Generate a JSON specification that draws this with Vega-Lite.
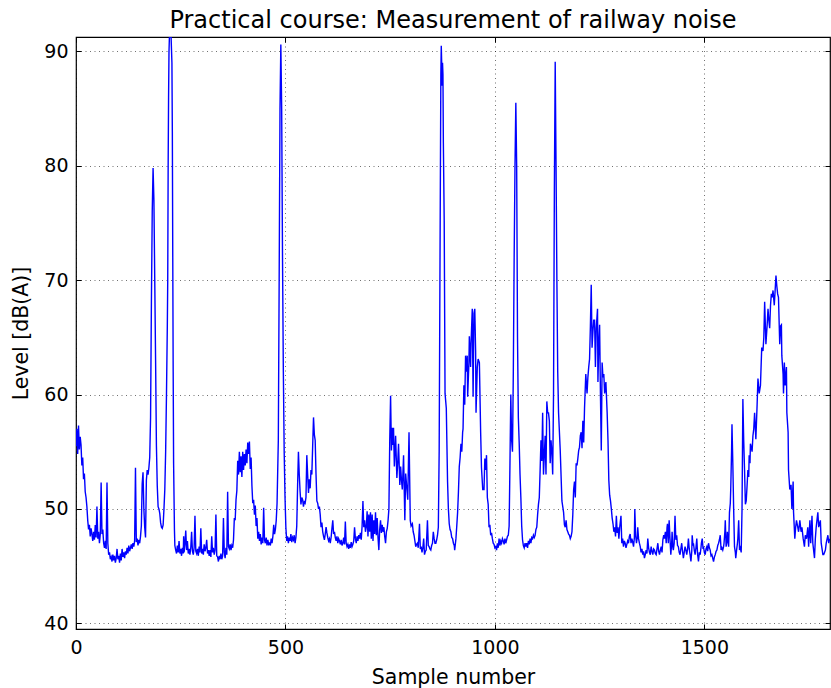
{
  "$schema": "https://vega.github.io/schema/vega-lite/v6.json",
  "width": 754,
  "height": 592,
  "autosize": {"type": "none"},
  "padding": {"left": 76, "top": 37, "right": 1, "bottom": 59},
  "background": "white",
  "title": {"text": "Practical course: Measurement of railway noise", "font": "DejaVu Sans", "fontSize": 24, "fontWeight": "normal", "color": "#000", "offset": 4},
  "config": {
    "view": {"stroke": "#000", "strokeWidth": 1.2},
    "axis": {"labelFont": "DejaVu Sans", "labelFontSize": 19, "labelColor": "#000", "titleFont": "DejaVu Sans", "titleFontSize": 20.5, "titleFontWeight": "normal", "titleColor": "#000", "domain": false, "tickColor": "#000", "tickWidth": 1, "tickSize": -5, "gridColor": "#000", "gridOpacity": 0.7, "gridDash": [1, 3.5], "gridWidth": 0.8}
  },
  "data": {"values": [
{"sample":0,"level":55.5},{"sample":2,"level":57.0},{"sample":4,"level":54.8},{"sample":6,"level":57.3},{"sample":8,"level":55.2},{"sample":10,"level":56.3},{"sample":12,"level":55.6},{"sample":14,"level":53.8},{"sample":16,"level":54.5},{"sample":18,"level":52.6},{"sample":20,"level":53.1},{"sample":22,"level":51.5},{"sample":24,"level":51.0},{"sample":26,"level":50.2},{"sample":28,"level":49.0},{"sample":30,"level":48.2},{"sample":32,"level":48.6},{"sample":34,"level":47.6},{"sample":36,"level":48.3},{"sample":38,"level":47.8},{"sample":40,"level":47.2},{"sample":42,"level":48.0},{"sample":44,"level":47.3},{"sample":46,"level":48.6},{"sample":48,"level":47.5},{"sample":50,"level":50.2},{"sample":52,"level":47.4},{"sample":54,"level":48.0},{"sample":56,"level":47.0},{"sample":58,"level":47.8},{"sample":60,"level":52.3},{"sample":62,"level":47.8},{"sample":64,"level":48.2},{"sample":66,"level":47.0},{"sample":68,"level":46.6},{"sample":70,"level":47.2},{"sample":72,"level":46.5},{"sample":74,"level":52.3},{"sample":76,"level":47.0},{"sample":78,"level":46.0},{"sample":80,"level":46.2},{"sample":82,"level":45.6},{"sample":84,"level":45.8},{"sample":86,"level":45.4},{"sample":88,"level":46.0},{"sample":90,"level":45.5},{"sample":92,"level":45.9},{"sample":94,"level":45.3},{"sample":96,"level":45.7},{"sample":98,"level":46.5},{"sample":100,"level":45.6},{"sample":102,"level":45.9},{"sample":104,"level":45.3},{"sample":106,"level":46.1},{"sample":108,"level":45.5},{"sample":110,"level":46.5},{"sample":112,"level":45.8},{"sample":114,"level":46.2},{"sample":116,"level":45.7},{"sample":118,"level":46.3},{"sample":120,"level":46.0},{"sample":122,"level":46.6},{"sample":124,"level":46.1},{"sample":126,"level":46.8},{"sample":128,"level":46.3},{"sample":130,"level":46.6},{"sample":132,"level":46.9},{"sample":134,"level":46.5},{"sample":136,"level":47.0},{"sample":138,"level":46.7},{"sample":140,"level":47.2},{"sample":142,"level":53.6},{"sample":144,"level":47.1},{"sample":146,"level":47.4},{"sample":148,"level":46.8},{"sample":150,"level":47.3},{"sample":152,"level":47.0},{"sample":154,"level":47.6},{"sample":156,"level":48.5},{"sample":158,"level":52.2},{"sample":160,"level":53.2},{"sample":162,"level":50.0},{"sample":164,"level":48.4},{"sample":166,"level":47.5},{"sample":168,"level":52.5},{"sample":170,"level":53.4},{"sample":172,"level":53.0},{"sample":174,"level":53.6},{"sample":176,"level":54.5},
{"sample":178,"level":58},{"sample":180,"level":68},{"sample":182,"level":76},{"sample":184,"level":79.8},{"sample":186,"level":77},{"sample":188,"level":70},{"sample":190,"level":63},{"sample":192,"level":55.5},{"sample":194,"level":52},{"sample":196,"level":50.2},{"sample":198,"level":50},{"sample":200,"level":49.6},{"sample":202,"level":48.8},{"sample":204,"level":48.4},{"sample":206,"level":48.3},{"sample":208,"level":48.6},{"sample":210,"level":50},{"sample":212,"level":51.7},{"sample":214,"level":55},{"sample":216,"level":60},{"sample":218,"level":66},{"sample":219,"level":70},{"sample":220,"level":80},{"sample":221,"level":86},{"sample":222,"level":90},{"sample":223,"level":91.26},{"sample":227,"level":91.26},{"sample":229,"level":89},{"sample":230,"level":83},{"sample":231,"level":72},{"sample":232,"level":62},{"sample":233,"level":54},{"sample":235,"level":48.2},{"sample":236,"level":46.8},
{"sample":238,"level":46.4},{"sample":240,"level":46.1},{"sample":242,"level":46.8},{"sample":244,"level":46.2},{"sample":246,"level":47.2},{"sample":248,"level":46.1},{"sample":250,"level":46.5},{"sample":252,"level":45.9},{"sample":254,"level":46.6},{"sample":256,"level":46.1},{"sample":257,"level":47.6},{"sample":258,"level":46.2},{"sample":260,"level":46.9},{"sample":262,"level":48.1},{"sample":264,"level":46.4},{"sample":266,"level":47.2},{"sample":268,"level":46.1},{"sample":270,"level":46.5},{"sample":272,"level":46.0},{"sample":274,"level":46.6},{"sample":276,"level":48.0},{"sample":278,"level":46.3},{"sample":280,"level":46.0},{"sample":282,"level":46.6},{"sample":284,"level":49.4},{"sample":286,"level":46.3},{"sample":288,"level":46.1},{"sample":290,"level":46.5},{"sample":292,"level":45.9},{"sample":294,"level":46.7},{"sample":296,"level":46.2},{"sample":298,"level":48.3},{"sample":300,"level":46.1},{"sample":302,"level":46.5},{"sample":304,"level":46.0},{"sample":306,"level":46.9},{"sample":308,"level":46.3},{"sample":310,"level":46.6},{"sample":312,"level":47.3},{"sample":314,"level":46.1},{"sample":316,"level":46.4},{"sample":318,"level":45.9},{"sample":320,"level":46.4},{"sample":322,"level":45.8},{"sample":324,"level":47.6},{"sample":326,"level":46.2},{"sample":328,"level":46.6},{"sample":330,"level":46.0},{"sample":332,"level":46.4},{"sample":334,"level":49.5},{"sample":336,"level":45.9},{"sample":338,"level":45.8},{"sample":340,"level":45.4},{"sample":342,"level":45.9},{"sample":344,"level":45.6},{"sample":346,"level":46.1},{"sample":348,"level":45.6},{"sample":350,"level":45.9},{"sample":352,"level":49.2},{"sample":354,"level":46.2},{"sample":356,"level":45.7},{"sample":358,"level":46.6},{"sample":360,"level":46.0},{"sample":362,"level":51.5},
{"sample":364,"level":46.7},{"sample":366,"level":46.5},{"sample":368,"level":46.9},{"sample":370,"level":46.4},{"sample":372,"level":46.8},{"sample":374,"level":46.6},{"sample":376,"level":47.3},{"sample":378,"level":49.2},{"sample":380,"level":49.0},{"sample":382,"level":50.8},{"sample":384,"level":51.6},{"sample":386,"level":54.2},{"sample":388,"level":53.0},{"sample":390,"level":55.0},{"sample":392,"level":53.2},{"sample":394,"level":54.6},{"sample":396,"level":52.8},{"sample":398,"level":55.0},{"sample":400,"level":53.4},{"sample":402,"level":54.8},{"sample":404,"level":53.8},{"sample":406,"level":55.2},{"sample":408,"level":54.0},{"sample":410,"level":55.8},{"sample":412,"level":54.8},{"sample":414,"level":55.9},{"sample":416,"level":53.5},{"sample":418,"level":54.5},{"sample":420,"level":52.0},{"sample":422,"level":50.5},{"sample":424,"level":50.8},{"sample":426,"level":49.5},{"sample":428,"level":50.3},{"sample":430,"level":48.5},{"sample":432,"level":49.2},{"sample":434,"level":47.4},{"sample":436,"level":48.0},{"sample":438,"level":47.2},{"sample":440,"level":47.8},{"sample":442,"level":46.9},{"sample":444,"level":47.5},{"sample":446,"level":47.0},{"sample":448,"level":50.1},{"sample":450,"level":47.3},{"sample":452,"level":47.0},{"sample":454,"level":47.5},{"sample":456,"level":46.8},{"sample":458,"level":47.3},{"sample":460,"level":46.9},{"sample":462,"level":47.0},{"sample":464,"level":46.8},{"sample":466,"level":47.4},{"sample":468,"level":47.0},{"sample":470,"level":47.6},{"sample":472,"level":48.6},{"sample":474,"level":47.8},{"sample":476,"level":48.2},{"sample":478,"level":49.0},{"sample":480,"level":50.5},
{"sample":483,"level":56},{"sample":485,"level":70},{"sample":487,"level":85},{"sample":489,"level":90.6},{"sample":491,"level":85},{"sample":493,"level":72},{"sample":495,"level":62},{"sample":497,"level":55},{"sample":499,"level":51},{"sample":501,"level":48.4},
{"sample":503,"level":47.2},{"sample":505,"level":47.6},{"sample":507,"level":47.0},{"sample":509,"level":47.5},{"sample":511,"level":47.2},{"sample":513,"level":47.8},{"sample":515,"level":47.1},{"sample":517,"level":47.5},{"sample":519,"level":47.3},{"sample":521,"level":47.7},{"sample":523,"level":47.0},{"sample":525,"level":47.5},{"sample":527,"level":48.5},{"sample":529,"level":52},{"sample":531,"level":55.0},{"sample":533,"level":53},{"sample":535,"level":51.5},{"sample":537,"level":50.4},{"sample":539,"level":51.0},{"sample":541,"level":50.8},{"sample":543,"level":50.2},{"sample":545,"level":50.6},{"sample":547,"level":50.5},{"sample":549,"level":51.0},{"sample":551,"level":54.7},{"sample":553,"level":53.0},{"sample":555,"level":51.4},
{"sample":557,"level":52.6},{"sample":559,"level":51.8},{"sample":561,"level":53.4},{"sample":563,"level":53.0},{"sample":565,"level":55.5},{"sample":567,"level":58.0},{"sample":569,"level":56.5},{"sample":571,"level":56.0},{"sample":573,"level":53.0},{"sample":575,"level":50.7},{"sample":577,"level":50.5},{"sample":579,"level":50.0},{"sample":581,"level":50.2},{"sample":583,"level":49.5},{"sample":585,"level":48.4},{"sample":587,"level":48.8},{"sample":589,"level":48.0},{"sample":591,"level":47.6},{"sample":593,"level":47.3},{"sample":595,"level":47.8},{"sample":597,"level":48.4},{"sample":599,"level":47.9},{"sample":601,"level":47.5},{"sample":603,"level":47.2},{"sample":605,"level":47.4},{"sample":607,"level":47.0},{"sample":609,"level":47.5},{"sample":611,"level":48.3},{"sample":613,"level":49.0},{"sample":615,"level":47.8},{"sample":617,"level":48.0},{"sample":619,"level":47.5},{"sample":621,"level":47.2},{"sample":623,"level":47.6},{"sample":625,"level":47.0},{"sample":627,"level":47.4},{"sample":629,"level":47.2},{"sample":631,"level":46.9},{"sample":633,"level":47.3},{"sample":635,"level":46.8},{"sample":637,"level":47.0},{"sample":639,"level":47.5},{"sample":641,"level":46.9},{"sample":643,"level":48.9},{"sample":645,"level":47.0},{"sample":647,"level":46.7},{"sample":649,"level":46.9},{"sample":651,"level":46.5},{"sample":653,"level":46.9},{"sample":655,"level":46.6},{"sample":657,"level":47.1},{"sample":659,"level":46.7},{"sample":661,"level":46.9},{"sample":663,"level":47.2},{"sample":665,"level":48.4},{"sample":667,"level":47.4},{"sample":669,"level":47.0},{"sample":671,"level":47.6},{"sample":673,"level":47.2},{"sample":675,"level":47.7},{"sample":677,"level":47.4},{"sample":679,"level":47.9},{"sample":681,"level":47.3},{"sample":683,"level":48.5},{"sample":685,"level":50.7},{"sample":687,"level":48.4},{"sample":689,"level":49.0},{"sample":691,"level":48.0},{"sample":693,"level":48.4},{"sample":695,"level":49.8},{"sample":697,"level":47.6},{"sample":699,"level":49.5},{"sample":701,"level":48.0},{"sample":703,"level":49.7},{"sample":705,"level":47.4},{"sample":707,"level":49.5},{"sample":709,"level":47.2},{"sample":711,"level":49.0},{"sample":713,"level":47.8},{"sample":715,"level":49.7},{"sample":717,"level":47.7},{"sample":719,"level":49.2},{"sample":721,"level":47.5},{"sample":723,"level":46.4},{"sample":725,"level":48.2},{"sample":727,"level":49.0},{"sample":729,"level":47.9},{"sample":731,"level":48.6},{"sample":733,"level":48.0},{"sample":735,"level":48.4},{"sample":737,"level":47.6},{"sample":739,"level":47.0},{"sample":741,"level":48.0},{"sample":743,"level":48.3},{"sample":745,"level":49.0},{"sample":747,"level":50.0},
{"sample":749,"level":56},{"sample":751,"level":59.9},{"sample":753,"level":55.1},{"sample":755,"level":57.1},{"sample":756,"level":55.6},{"sample":758,"level":57.1},{"sample":760,"level":53.7},{"sample":763,"level":56.4},{"sample":766,"level":52.7},{"sample":768,"level":54.0},{"sample":770,"level":55.7},{"sample":773,"level":52.1},{"sample":775,"level":53.7},{"sample":777,"level":52.5},{"sample":779,"level":51.7},{"sample":782,"level":54.7},{"sample":785,"level":49.0},{"sample":787,"level":53.1},{"sample":790,"level":51.7},{"sample":792,"level":50.8},{"sample":795,"level":56.7},{"sample":798,"level":49.0},{"sample":800,"level":48.5},{"sample":803,"level":48.7},{"sample":805,"level":48.0},{"sample":807,"level":47.7},{"sample":809,"level":47.2},{"sample":811,"level":46.7},{"sample":813,"level":46.9},{"sample":815,"level":47.0},{"sample":817,"level":46.6},{"sample":820,"level":48.7},{"sample":822,"level":46.5},{"sample":824,"level":46.7},{"sample":826,"level":46.2},{"sample":828,"level":46.6},{"sample":830,"level":47.4},{"sample":832,"level":46.0},{"sample":834,"level":46.3},{"sample":836,"level":46.4},{"sample":839,"level":49.0},{"sample":841,"level":46.8},{"sample":843,"level":46.7},{"sample":845,"level":46.5},{"sample":847,"level":46.4},{"sample":849,"level":46.8},{"sample":851,"level":47.0},{"sample":853,"level":48.0},{"sample":855,"level":47.4},{"sample":857,"level":47.0},{"sample":859,"level":47.0},{"sample":861,"level":47.3},{"sample":863,"level":47.7},{"sample":865,"level":48.4},
{"sample":867,"level":55.1},{"sample":869,"level":71.8},{"sample":871,"level":88},{"sample":872,"level":90.5},{"sample":873,"level":89},{"sample":874,"level":87},{"sample":875,"level":89},{"sample":876,"level":88},{"sample":877,"level":82},{"sample":879,"level":75.2},{"sample":881,"level":60.1},{"sample":884,"level":58.8},{"sample":887,"level":52.4},{"sample":889,"level":50},{"sample":891,"level":48.7},{"sample":893,"level":48.2},{"sample":895,"level":48.0},
{"sample":897,"level":47.5},{"sample":899,"level":47.4},{"sample":901,"level":47.0},{"sample":903,"level":46.8},{"sample":904,"level":46.4},{"sample":907,"level":47.4},{"sample":909,"level":48.5},{"sample":911,"level":49.7},{"sample":913,"level":51.5},{"sample":915,"level":53.7},{"sample":917,"level":54.5},{"sample":919,"level":55.7},{"sample":921,"level":55.0},{"sample":923,"level":56.7},{"sample":924,"level":57.0},{"sample":926,"level":60.8},{"sample":928,"level":59.1},{"sample":930,"level":63.4},{"sample":932,"level":62.0},{"sample":934,"level":63.4},{"sample":935,"level":59.8},{"sample":938,"level":62.8},{"sample":939,"level":65.1},{"sample":942,"level":62.4},{"sample":943,"level":64.4},{"sample":946,"level":67.5},{"sample":948,"level":59.8},{"sample":950,"level":67.1},{"sample":952,"level":67.5},{"sample":954,"level":63.8},{"sample":955,"level":58.4},{"sample":958,"level":62.4},{"sample":960,"level":63.1},{"sample":963,"level":62.8},{"sample":966,"level":56.7},{"sample":968,"level":53.6},{"sample":971,"level":51.7},{"sample":974,"level":51.7},{"sample":976,"level":54.4},{"sample":978,"level":53.4},{"sample":980,"level":54.7},{"sample":982,"level":51.0},{"sample":984,"level":50.4},{"sample":986,"level":48.4},{"sample":988,"level":48.6},{"sample":990,"level":47.7},{"sample":992,"level":47.9},{"sample":994,"level":47.4},{"sample":996,"level":47.0},{"sample":998,"level":46.9},{"sample":1000,"level":46.6},{"sample":1002,"level":46.7},{"sample":1004,"level":46.4},{"sample":1006,"level":47.0},{"sample":1008,"level":46.6},{"sample":1010,"level":47.4},{"sample":1012,"level":46.8},{"sample":1014,"level":47.2},{"sample":1016,"level":47.0},{"sample":1018,"level":47.4},{"sample":1020,"level":47.2},{"sample":1022,"level":46.9},{"sample":1024,"level":47.4},{"sample":1026,"level":47.0},{"sample":1028,"level":47.3},{"sample":1030,"level":47.6},{"sample":1032,"level":47.7},{"sample":1034,"level":48.5},
{"sample":1036,"level":54},{"sample":1038,"level":60.0},{"sample":1040,"level":56},{"sample":1042,"level":55.0},{"sample":1044,"level":62},{"sample":1046,"level":72},{"sample":1048,"level":80},{"sample":1050,"level":85.5},{"sample":1052,"level":80},{"sample":1054,"level":65},{"sample":1056,"level":58},{"sample":1058,"level":55.8},{"sample":1060,"level":53},{"sample":1062,"level":51},{"sample":1064,"level":48.5},{"sample":1066,"level":47.3},
{"sample":1068,"level":46.8},{"sample":1070,"level":46.6},{"sample":1072,"level":47.0},{"sample":1074,"level":46.7},{"sample":1076,"level":47.0},{"sample":1078,"level":46.6},{"sample":1080,"level":47.2},{"sample":1082,"level":46.9},{"sample":1084,"level":47.4},{"sample":1086,"level":47.0},{"sample":1088,"level":47.5},{"sample":1090,"level":47.4},{"sample":1092,"level":47.7},{"sample":1094,"level":47.5},{"sample":1096,"level":47.7},{"sample":1098,"level":48.2},{"sample":1100,"level":48.4},{"sample":1102,"level":49.5},{"sample":1104,"level":50.4},{"sample":1106,"level":51.0},{"sample":1108,"level":53.4},{"sample":1110,"level":56.0},{"sample":1112,"level":54.2},{"sample":1114,"level":58.4},{"sample":1116,"level":53.0},{"sample":1118,"level":54.7},{"sample":1120,"level":56.4},{"sample":1122,"level":53.0},{"sample":1124,"level":59.4},{"sample":1126,"level":58.4},{"sample":1128,"level":58.4},{"sample":1130,"level":57.7},{"sample":1132,"level":54.0},{"sample":1134,"level":56.0},{"sample":1136,"level":55.0},{"sample":1138,"level":53.0},
{"sample":1140,"level":60.1},{"sample":1142,"level":78},{"sample":1144,"level":89.1},{"sample":1146,"level":80},{"sample":1148,"level":70},{"sample":1150,"level":62},{"sample":1152,"level":58.4},{"sample":1156,"level":55.1},{"sample":1160,"level":50.7},
{"sample":1162,"level":50.2},{"sample":1164,"level":49.7},{"sample":1166,"level":48.6},{"sample":1168,"level":48.4},{"sample":1170,"level":49.0},{"sample":1172,"level":48.2},{"sample":1174,"level":48.0},{"sample":1176,"level":47.8},{"sample":1178,"level":47.7},{"sample":1180,"level":47.4},{"sample":1182,"level":47.6},{"sample":1184,"level":48.0},{"sample":1186,"level":49.5},{"sample":1188,"level":51.7},{"sample":1190,"level":52.4},{"sample":1192,"level":51.0},{"sample":1194,"level":54.0},{"sample":1196,"level":53.8},{"sample":1198,"level":54.4},{"sample":1200,"level":55.1},{"sample":1202,"level":55.4},{"sample":1204,"level":56.4},{"sample":1206,"level":56.7},{"sample":1208,"level":55.3},{"sample":1210,"level":57.7},{"sample":1212,"level":55.8},{"sample":1214,"level":58.8},{"sample":1217,"level":61.8},{"sample":1220,"level":60.1},{"sample":1222,"level":61.5},{"sample":1224,"level":62.4},{"sample":1226,"level":63.1},{"sample":1228,"level":66},{"sample":1230,"level":69.6},{"sample":1232,"level":64.1},{"sample":1234,"level":65.5},{"sample":1236,"level":66.5},{"sample":1238,"level":66.5},{"sample":1240,"level":62.4},{"sample":1242,"level":65.8},{"sample":1245,"level":67.5},{"sample":1246,"level":61.1},{"sample":1248,"level":64.4},{"sample":1250,"level":66.1},{"sample":1252,"level":60.0},{"sample":1254,"level":55.1},{"sample":1256,"level":62.8},{"sample":1258,"level":61.5},{"sample":1260,"level":61.8},{"sample":1262,"level":60.1},{"sample":1265,"level":61.1},{"sample":1268,"level":58.4},{"sample":1270,"level":56},{"sample":1272,"level":52.5},{"sample":1274,"level":51.2},{"sample":1276,"level":50.7},{"sample":1278,"level":50.0},{"sample":1280,"level":49.2},{"sample":1282,"level":48.7},{"sample":1284,"level":48.0},{"sample":1286,"level":48.4},{"sample":1288,"level":47.6},{"sample":1290,"level":49.4},{"sample":1292,"level":47.9},{"sample":1294,"level":48.4},{"sample":1296,"level":47.4},{"sample":1298,"level":48.4},
{"sample":1301,"level":49.4},{"sample":1303,"level":47.0},{"sample":1305,"level":47.4},{"sample":1307,"level":46.7},{"sample":1309,"level":47.2},{"sample":1311,"level":47.0},{"sample":1313,"level":46.6},{"sample":1315,"level":46.9},{"sample":1317,"level":47.2},{"sample":1319,"level":47.0},{"sample":1321,"level":47.6},{"sample":1323,"level":47.8},{"sample":1325,"level":47.0},{"sample":1327,"level":47.4},{"sample":1329,"level":47.1},{"sample":1331,"level":46.7},{"sample":1333,"level":47.5},{"sample":1334,"level":50.0},{"sample":1336,"level":47.7},{"sample":1338,"level":47.0},{"sample":1340,"level":47.5},{"sample":1341,"level":48.4},{"sample":1343,"level":47.4},{"sample":1345,"level":47.0},{"sample":1347,"level":46.7},{"sample":1349,"level":46.2},{"sample":1351,"level":46.5},{"sample":1353,"level":46.0},{"sample":1355,"level":46.3},{"sample":1357,"level":45.7},{"sample":1359,"level":46.0},{"sample":1361,"level":46.4},{"sample":1363,"level":46.1},{"sample":1365,"level":47.4},{"sample":1367,"level":46.6},{"sample":1369,"level":46.2},{"sample":1371,"level":46.0},{"sample":1373,"level":46.7},{"sample":1375,"level":46.3},{"sample":1377,"level":46.0},{"sample":1379,"level":46.5},{"sample":1381,"level":46.4},{"sample":1383,"level":46.1},{"sample":1385,"level":46.0},{"sample":1387,"level":46.5},{"sample":1389,"level":47.0},{"sample":1391,"level":46.3},{"sample":1393,"level":46.0},{"sample":1395,"level":46.4},{"sample":1397,"level":46.7},{"sample":1399,"level":46.2},{"sample":1401,"level":47.3},{"sample":1403,"level":47.7},{"sample":1405,"level":47.4},{"sample":1407,"level":48.0},{"sample":1409,"level":47.0},{"sample":1411,"level":48.4},{"sample":1412,"level":48.7},{"sample":1414,"level":47.0},{"sample":1416,"level":49.0},{"sample":1418,"level":47.4},{"sample":1420,"level":46.0},{"sample":1422,"level":47.0},{"sample":1423,"level":48.0},{"sample":1425,"level":46.6},{"sample":1426,"level":46.4},{"sample":1428,"level":47.0},{"sample":1430,"level":49.4},{"sample":1432,"level":47.3},{"sample":1434,"level":47.7},{"sample":1436,"level":46.8},{"sample":1438,"level":46.7},{"sample":1440,"level":46.2},{"sample":1442,"level":46.0},{"sample":1444,"level":46.5},{"sample":1446,"level":47.0},{"sample":1448,"level":46.3},{"sample":1450,"level":45.7},{"sample":1452,"level":46.2},{"sample":1454,"level":46.7},{"sample":1456,"level":46.4},{"sample":1458,"level":46.0},{"sample":1460,"level":46.5},{"sample":1462,"level":47.4},{"sample":1464,"level":46.5},{"sample":1466,"level":46.0},{"sample":1468,"level":45.4},{"sample":1470,"level":46.3},{"sample":1471,"level":47.7},{"sample":1473,"level":46.8},{"sample":1474,"level":47.0},{"sample":1476,"level":46.4},{"sample":1478,"level":46.0},{"sample":1480,"level":46.6},{"sample":1482,"level":47.4},{"sample":1484,"level":46.0},{"sample":1486,"level":45.4},
{"sample":1488,"level":46.2},{"sample":1490,"level":46.0},{"sample":1492,"level":46.6},{"sample":1493,"level":47.0},{"sample":1495,"level":47.4},{"sample":1497,"level":46.5},{"sample":1498,"level":46.7},{"sample":1500,"level":46.2},{"sample":1502,"level":46.0},{"sample":1504,"level":46.5},{"sample":1506,"level":46.7},{"sample":1508,"level":46.3},{"sample":1510,"level":47.0},{"sample":1512,"level":46.6},{"sample":1514,"level":46.4},{"sample":1516,"level":45.9},{"sample":1518,"level":46.0},{"sample":1520,"level":45.7},{"sample":1522,"level":45.4},{"sample":1524,"level":45.8},{"sample":1526,"level":46.0},{"sample":1528,"level":46.3},{"sample":1530,"level":46.4},{"sample":1532,"level":46.8},{"sample":1534,"level":47.0},{"sample":1536,"level":47.3},{"sample":1538,"level":47.7},{"sample":1540,"level":46.4},{"sample":1542,"level":46.6},{"sample":1544,"level":46.4},{"sample":1546,"level":46.7},{"sample":1547,"level":47.0},{"sample":1549,"level":48.0},{"sample":1550,"level":49.0},{"sample":1552,"level":46.7},{"sample":1554,"level":47.2},{"sample":1555,"level":48.0},{"sample":1557,"level":47.0},{"sample":1558,"level":46.7},{"sample":1560,"level":49.7},{"sample":1562,"level":50.5},{"sample":1563,"level":51.7},{"sample":1565,"level":55},{"sample":1566,"level":57.4},{"sample":1568,"level":54},{"sample":1570,"level":50.0},{"sample":1572,"level":46.7},{"sample":1574,"level":46.2},{"sample":1575,"level":45.7},{"sample":1577,"level":46.4},{"sample":1579,"level":47.0},{"sample":1580,"level":47.4},{"sample":1582,"level":49.0},{"sample":1584,"level":46.4},{"sample":1586,"level":46.6},{"sample":1588,"level":46.2},{"sample":1590,"level":50},{"sample":1592,"level":59.6},{"sample":1594,"level":56},{"sample":1596,"level":53.4},{"sample":1598,"level":50.4},{"sample":1600,"level":50.7},{"sample":1602,"level":52},{"sample":1604,"level":53.4},{"sample":1606,"level":52.8},{"sample":1607,"level":54.7},{"sample":1609,"level":54.0},{"sample":1610,"level":55.7},{"sample":1612,"level":55.4},{"sample":1614,"level":55.0},{"sample":1616,"level":56.4},{"sample":1618,"level":57.0},{"sample":1620,"level":58.4},{"sample":1623,"level":56.1},{"sample":1626,"level":59.1},{"sample":1628,"level":61.4},{"sample":1631,"level":60.1},{"sample":1634,"level":60.8},{"sample":1637,"level":64.1},{"sample":1640,"level":63.8},{"sample":1642,"level":65.0},{"sample":1644,"level":68.1},{"sample":1647,"level":64.4},{"sample":1650,"level":66.1},{"sample":1652,"level":67.5},{"sample":1654,"level":66.5},{"sample":1656,"level":65.8},{"sample":1658,"level":67.8},{"sample":1660,"level":68.8},{"sample":1662,"level":68.5},{"sample":1664,"level":69.1},{"sample":1667,"level":67.8},{"sample":1669,"level":69.1},{"sample":1671,"level":70.4},{"sample":1673,"level":69.5},{"sample":1675,"level":68.8},{"sample":1677,"level":68.5},{"sample":1680,"level":64.4},{"sample":1682,"level":66.0},{"sample":1684,"level":66.1},{"sample":1685,"level":63.4},{"sample":1688,"level":61.8},{"sample":1689,"level":60.1},{"sample":1691,"level":62.8},{"sample":1693,"level":60.8},{"sample":1696,"level":62.4},{"sample":1697,"level":58.4},{"sample":1700,"level":56.7},{"sample":1701,"level":53.4},{"sample":1704,"level":51.7},{"sample":1707,"level":52.1},{"sample":1709,"level":50.0},{"sample":1712,"level":52.4},{"sample":1713,"level":49.7},{"sample":1716,"level":47.4},{"sample":1718,"level":48.4},{"sample":1720,"level":49.0},{"sample":1723,"level":48.4},{"sample":1725,"level":48.0},{"sample":1728,"level":49.0},{"sample":1731,"level":48.0},{"sample":1733,"level":48.4},{"sample":1736,"level":47.4},{"sample":1739,"level":46.7},{"sample":1741,"level":47.7},{"sample":1744,"level":47.4},{"sample":1747,"level":48.4},{"sample":1749,"level":46.7},{"sample":1752,"level":49.0},{"sample":1754,"level":47.0},{"sample":1757,"level":49.4},{"sample":1759,"level":47.0},{"sample":1763,"level":45.7},{"sample":1765,"level":47.4},{"sample":1767,"level":48.4},{"sample":1771,"level":49.7},{"sample":1773,"level":48.4},{"sample":1777,"level":49.0},{"sample":1779,"level":47.0},{"sample":1783,"level":46.0},{"sample":1785,"level":46.0},{"sample":1789,"level":46.4},{"sample":1791,"level":47.0},{"sample":1795,"level":47.7},{"sample":1797,"level":47.0},{"sample":1799,"level":47.4}
  ]},
  "layer": [
    {
      "mark": {"type": "line", "color": "#0000ff", "strokeWidth": 1.4, "clip": true, "interpolate": "linear"},
      "encoding": {
        "x": {"field": "sample", "type": "quantitative", "scale": {"domain": [0, 1800], "nice": false, "zero": false}, "axis": {"orient": "bottom", "values": [0, 500, 1000, 1500], "format": "d", "grid": true, "title": "Sample number", "labelPadding": 14, "titlePadding": 10, "labelFlush": false}},
        "y": {"field": "level", "type": "quantitative", "scale": {"domain": [39.5, 91.26], "nice": false, "zero": false}, "axis": {"orient": "left", "values": [40, 50, 60, 70, 80, 90], "format": "d", "grid": true, "title": "Level [dB(A)]", "labelPadding": 13, "titlePadding": 12}}
      }
    },
    {
      "mark": {"type": "line", "opacity": 0, "clip": true},
      "encoding": {
        "x": {"field": "sample", "type": "quantitative", "axis": {"orient": "top", "values": [0, 500, 1000, 1500], "grid": false, "labels": false, "title": null}},
        "y": {"field": "level", "type": "quantitative", "axis": {"orient": "right", "values": [40, 50, 60, 70, 80, 90], "grid": false, "labels": false, "title": null}}
      }
    }
  ]
}
